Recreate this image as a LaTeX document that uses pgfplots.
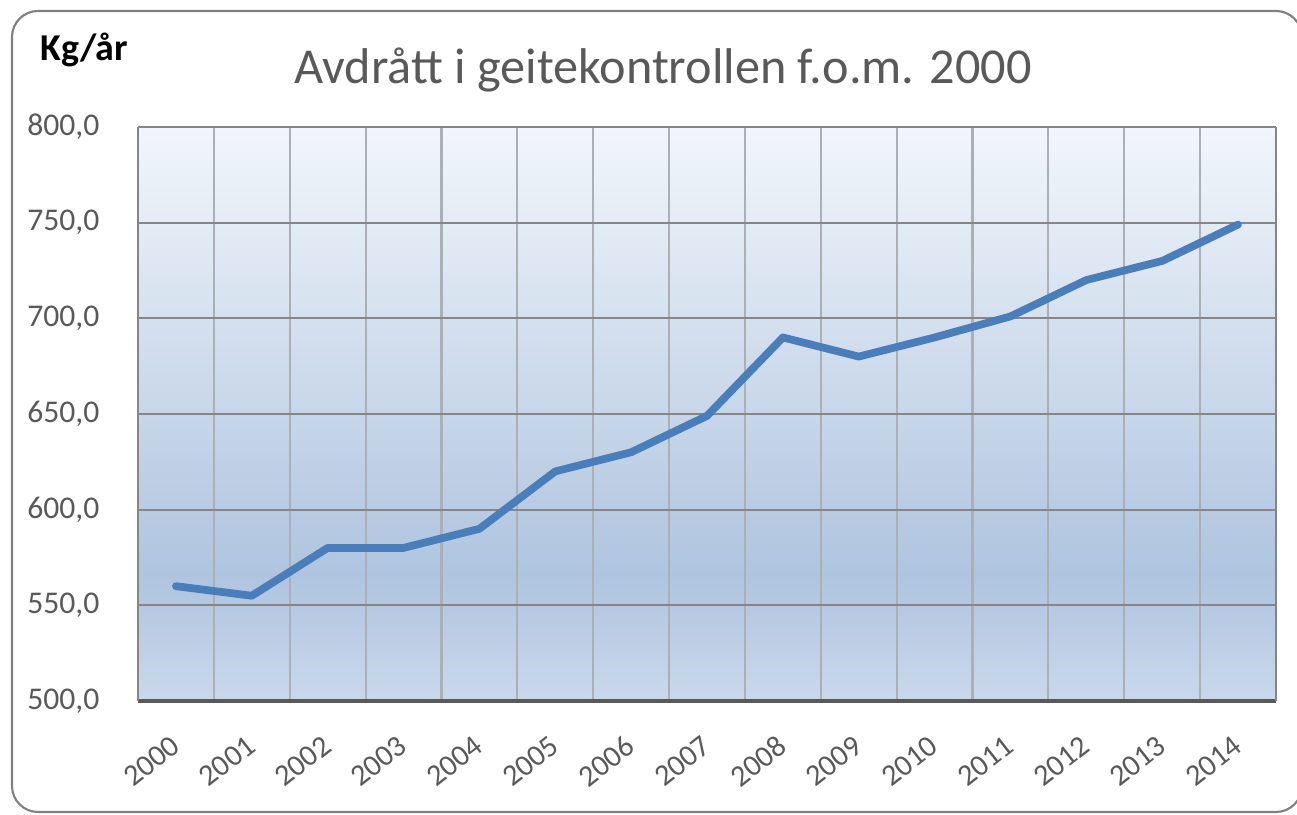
\documentclass[border=0pt]{standalone}
\usepackage{fontspec}
\setmainfont{Carlito}
\usepackage{pgfplots}
\pgfplotsset{compat=1.18}

\definecolor{txtgray}{HTML}{595959}
\definecolor{hgrid}{HTML}{868686}
\definecolor{vgrid}{HTML}{ABB0B7}
\definecolor{frame}{HTML}{808080}
\definecolor{linblue}{HTML}{4A7EBB}
\definecolor{bgtop}{HTML}{F2F6FB}
\definecolor{bgdark}{HTML}{AFC4DF}
\definecolor{bgbot}{HTML}{CAD8EB}

% excel-like plot area fill: light at top, darkest low down, lighter at the bottom
\pgfdeclareverticalshading{plotbg}{100bp}{color(0bp)=(bgbot); color(25bp)=(bgbot);
  color(36bp)=(bgdark); color(75bp)=(bgtop); color(100bp)=(bgtop)}

\begin{document}
\begin{tikzpicture}
\useasboundingbox (0,0) rectangle (129.7mm,81.5mm);

% outer chart frame
\draw[frame, line width=0.6pt, rounded corners=2.6mm] (1.2mm,0.3mm) rectangle (130.2mm,80.4mm);

\begin{axis}[
    at={(13.8mm,11.4mm)}, anchor=south west,
    scale only axis,
    width=113.8mm, height=57.4mm,
    xmin=1999.5, xmax=2014.5,
    ymin=500, ymax=800,
    xtick={2000,...,2014},
    xticklabels={2000,2001,2002,2003,2004,2005,2006,2007,2008,2009,2010,2011,2012,2013,2014},
    minor xtick={1999.5,2000.5,...,2014.5},
    ytick={500,550,...,800},
    major tick length=0pt, minor tick length=0pt,
    ymajorgrids=true, xminorgrids=true,
    major y grid style={hgrid, line width=0.6pt},
    minor x grid style={vgrid, line width=0.6pt},
    axis x line*=bottom, axis y line*=box,
    x axis line style={-, draw=txtgray, line width=0.9pt},
    y axis line style={-, draw=hgrid, line width=0.6pt},
    axis background/.style={shade, shading=plotbg},
    yticklabel style={font=\fontsize{9}{10}\selectfont, text=txtgray,
        anchor=east, inner sep=0pt},
    yticklabel shift=3.8mm,
    y tick label style={/pgf/number format/.cd, fixed, fixed zerofill,
        precision=1, use comma, 1000 sep={}, assume math mode=true},
    xticklabel style={font=\fontsize{8.6}{10}\selectfont, text=txtgray,
        rotate=38, anchor=east, inner sep=0pt},
    xticklabel shift=4.1mm,
]

\addplot[linblue, line width=2.2pt, line join=round, line cap=round] coordinates {
    (2000,560)(2001,555)(2002,580)(2003,580)(2004,590)
    (2005,620)(2006,630)(2007,649)(2008,690)(2009,680)
    (2010,690)(2011,701)(2012,720)(2013,730)(2014,749)
};

\end{axis}

% titles
\node[anchor=base, text=txtgray, font=\fontsize{14.3}{16}\selectfont, inner sep=0pt]
    at (66.3mm,73.1mm) {Avdrått i geitekontrollen f.o.m. 2000};
\node[anchor=base west, font=\bfseries\fontsize{10.8}{12}\selectfont, inner sep=0pt]
    at (4.0mm,75.4mm) {Kg/år};
\end{tikzpicture}
\end{document}
